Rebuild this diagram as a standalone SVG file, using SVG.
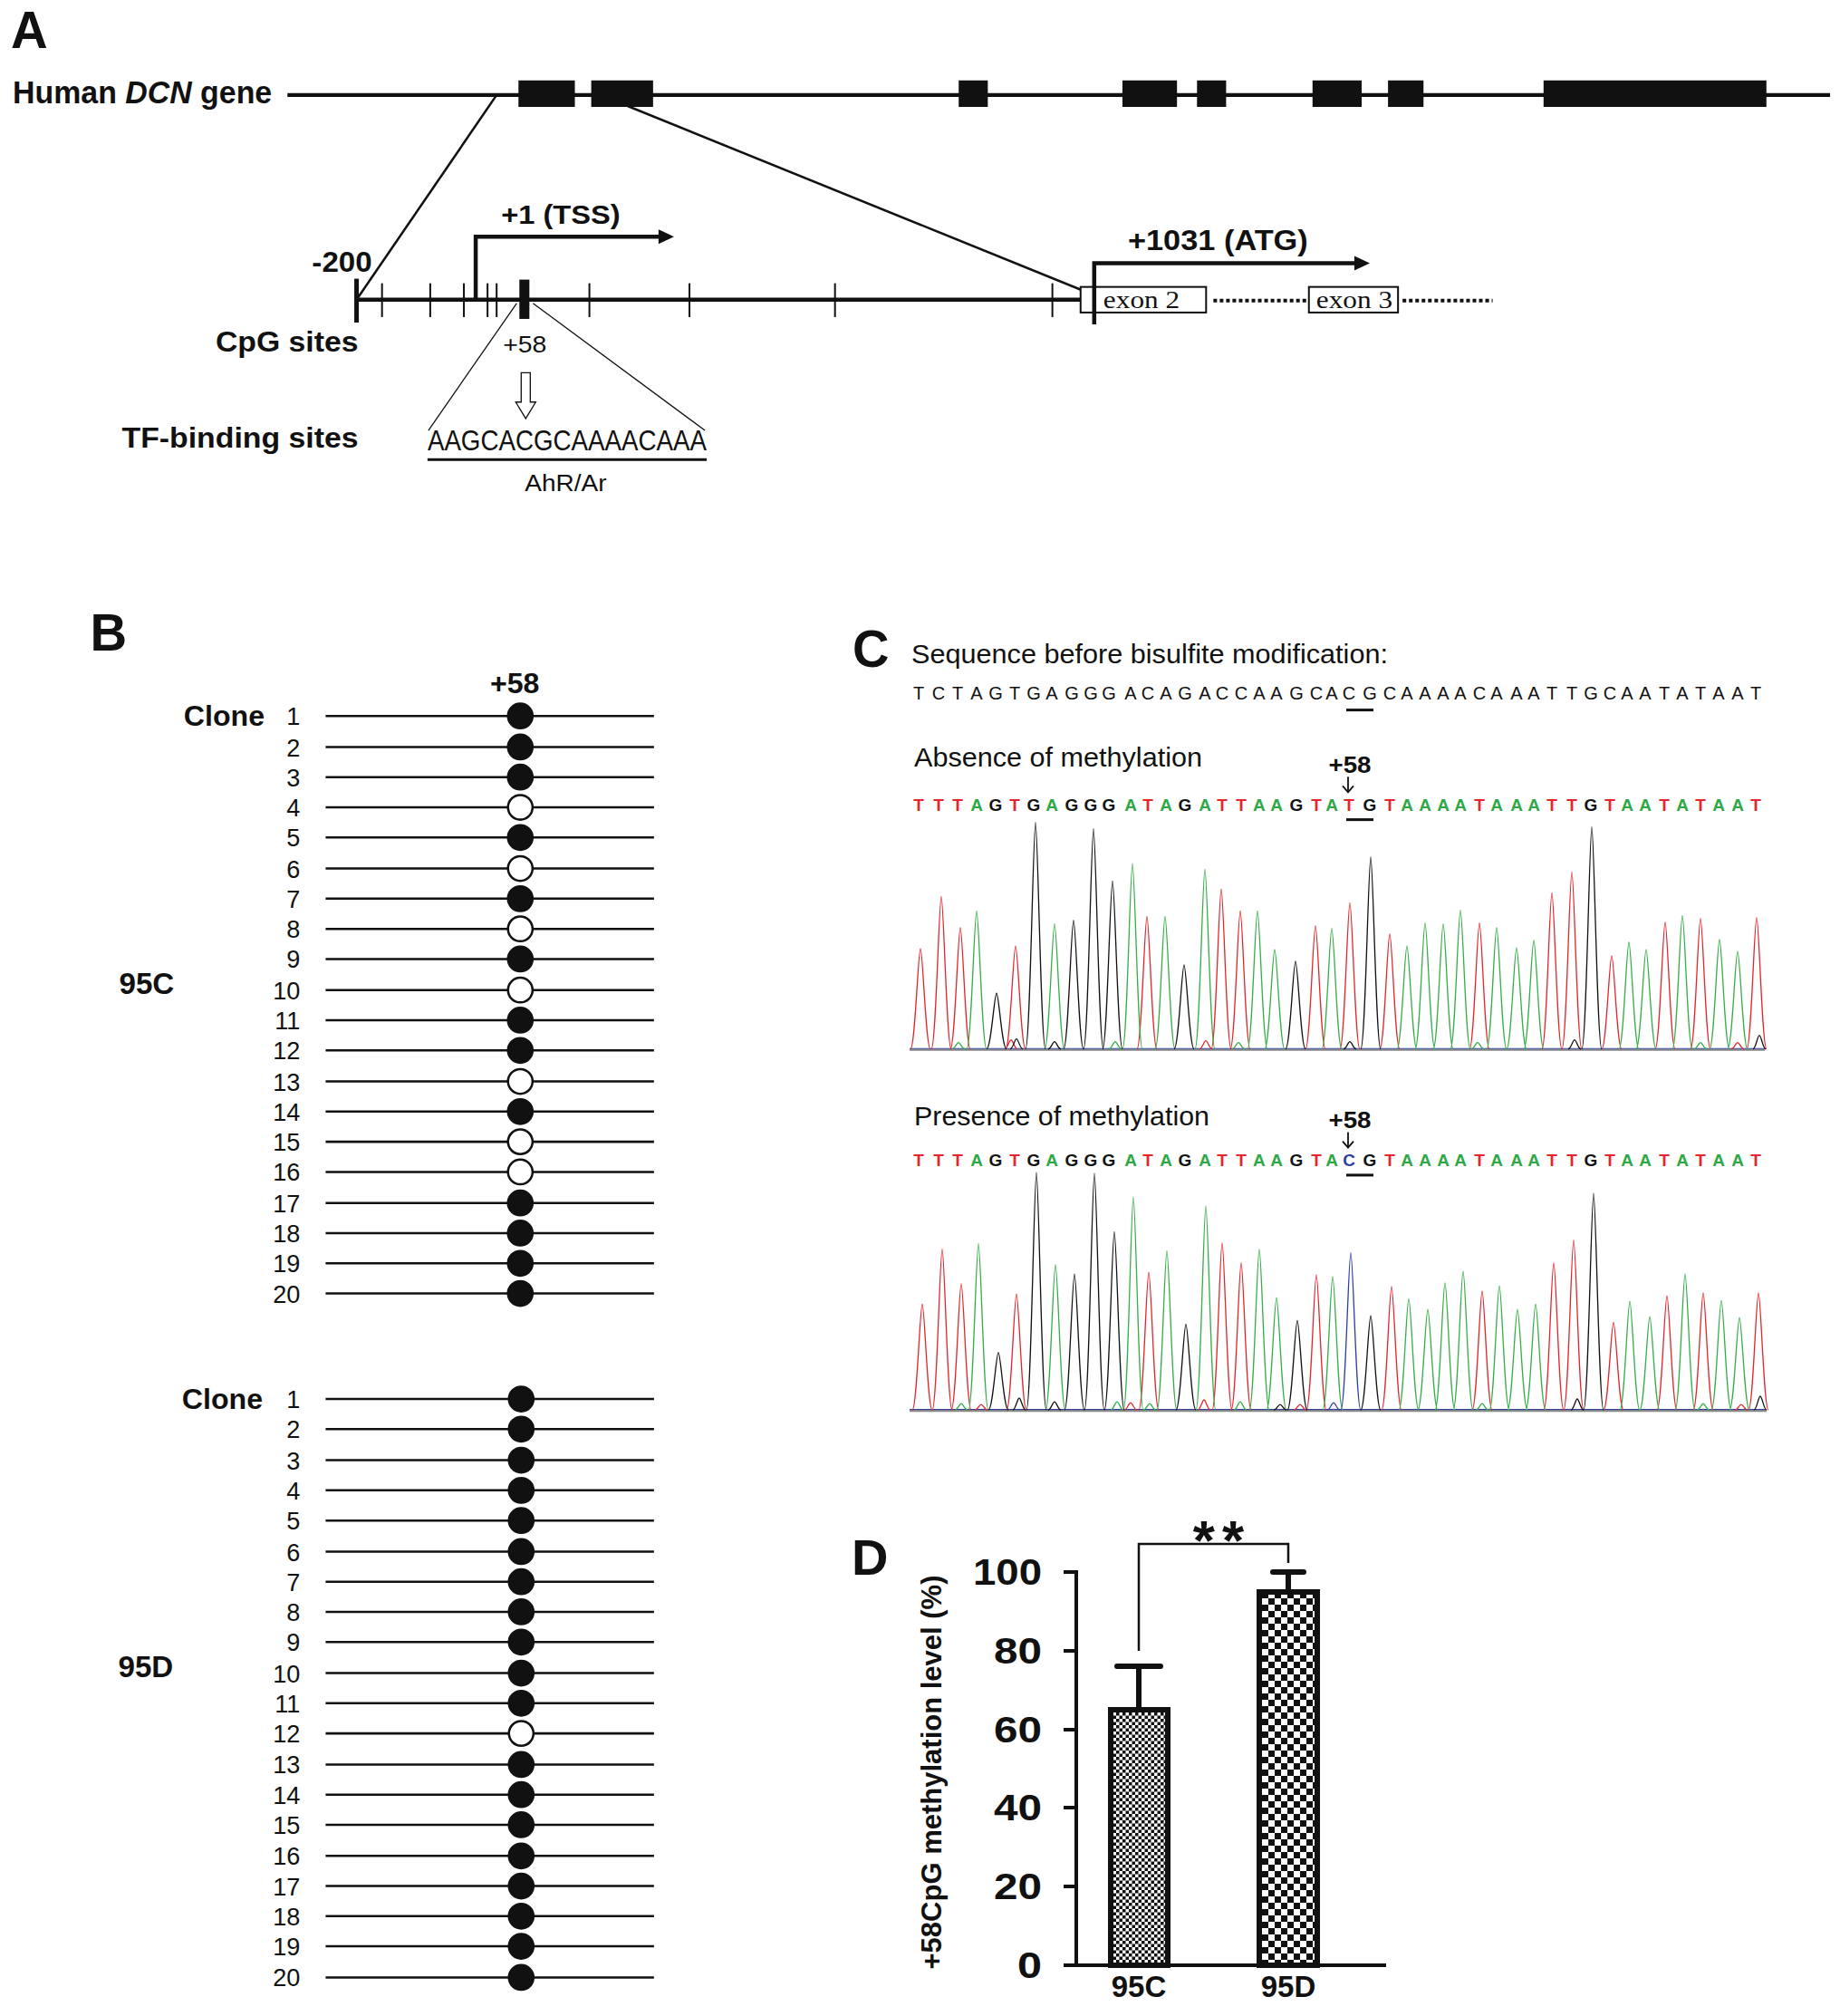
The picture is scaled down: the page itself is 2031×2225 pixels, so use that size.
<svg xmlns="http://www.w3.org/2000/svg" width="2031" height="2225" viewBox="0 0 2031 2225">
<style>
text{font-family:"Liberation Sans",Arial,sans-serif;fill:#111}
.b{font-weight:bold}
.serif{font-family:"Liberation Serif","Times New Roman",serif}
.panel{font-size:56px;font-weight:bold}
.ln{stroke:#111;fill:none}
.row{stroke:#111;stroke-width:2.5}
.full{fill:#111;stroke:#111;stroke-width:2.5}
.open{fill:#fff;stroke:#111;stroke-width:2.5}
.num{font-size:27px;text-anchor:end}
.t{fill:#e3262d}
.a{fill:#2ea844}
.g{fill:#111}
.c{fill:#2c3f9f}
.pkT{fill:none;stroke:#e3262d;stroke-width:1.3}
.pkA{fill:none;stroke:#35ae48;stroke-width:1.3}
.pkG{fill:none;stroke:#111;stroke-width:1.3}
.pkC{fill:none;stroke:#2c3f9f;stroke-width:1.3}
.bl{font-size:19px;font-weight:bold;text-anchor:middle}
.tick{font-size:40px;font-weight:bold;text-anchor:end}
</style>
<defs>
<pattern id="fine" width="7" height="7" patternUnits="userSpaceOnUse"><rect width="7" height="7" fill="#fff"/><rect width="3.5" height="3.5" fill="#111"/><rect x="3.5" y="3.5" width="3.5" height="3.5" fill="#111"/></pattern>
<pattern id="coarse" width="14" height="14" patternUnits="userSpaceOnUse"><rect width="14" height="14" fill="#fff"/><rect width="7" height="7" fill="#111"/><rect x="7" y="7" width="7" height="7" fill="#111"/></pattern>
</defs>
<rect width="2031" height="2225" fill="#fff"/>

<!-- PANEL A -->
<g id="panel-a" transform="matrix(1.004 0 0 1.0085 0 0)">
<text class="panel" x="12" y="53">A</text>
<g id="gene">
<text class="b" x="14" y="113" font-size="34" textLength="285" lengthAdjust="spacingAndGlyphs">Human <tspan font-style="italic">DCN</tspan> gene</text>
<line class="ln" x1="316" y1="104" x2="2012" y2="104" stroke-width="4"/>
<g fill="#111">
<rect x="570" y="88" width="62" height="29"/>
<rect x="650" y="88" width="68" height="29"/>
<rect x="1054" y="88" width="32" height="29"/>
<rect x="1234" y="88" width="60" height="29"/>
<rect x="1316" y="88" width="32" height="29"/>
<rect x="1443" y="88" width="54" height="29"/>
<rect x="1526" y="88" width="39" height="29"/>
<rect x="1697" y="88" width="245" height="29"/>
</g>
</g>
<g id="connectors-a">
<line class="ln" x1="546" y1="104" x2="392" y2="328" stroke-width="2.5"/>
<line class="ln" x1="690" y1="116" x2="1203" y2="323" stroke-width="2.5"/>
<line class="ln" x1="568" y1="332" x2="471" y2="471" stroke-width="1.3"/>
<line class="ln" x1="586" y1="332" x2="775" y2="471" stroke-width="1.3"/>
</g>
<g id="promoter">
<line class="ln" x1="392" y1="328" x2="1195" y2="328" stroke-width="4.5"/>
<line class="ln" x1="392" y1="305" x2="392" y2="353" stroke-width="5"/>
<g class="ln" stroke-width="2">
<line x1="420" y1="310" x2="420" y2="347"/>
<line x1="473" y1="310" x2="473" y2="347"/>
<line x1="510" y1="310" x2="510" y2="347"/>
<line x1="536" y1="310" x2="536" y2="347"/>
<line x1="546" y1="310" x2="546" y2="347"/>
<line x1="648" y1="310" x2="648" y2="347"/>
<line x1="758" y1="310" x2="758" y2="347"/>
<line x1="918" y1="310" x2="918" y2="347"/>
<line x1="1157" y1="310" x2="1157" y2="347"/>
</g>
<rect x="571" y="306" width="11" height="43" fill="#111"/>
<path class="ln" d="M523,328 V259 H726" stroke-width="4.5"/>
<polygon points="724,251 741,259 724,267" fill="#111"/>
<text class="b" x="551" y="245" font-size="30" textLength="131" lengthAdjust="spacingAndGlyphs">+1 (TSS)</text>
<text class="b" x="343" y="297" font-size="31" textLength="66" lengthAdjust="spacingAndGlyphs">-200</text>
<text class="b" x="237" y="385" font-size="31" textLength="157" lengthAdjust="spacingAndGlyphs">CpG sites</text>
<text x="577" y="386" font-size="26" text-anchor="middle" textLength="48" lengthAdjust="spacingAndGlyphs">+58</text>
<polygon points="573,408 583,408 583,440 589,440 578,458 567,440 573,440" fill="#fff" stroke="#111" stroke-width="1.3"/>
<text class="b" x="134" y="490" font-size="31" textLength="260" lengthAdjust="spacingAndGlyphs">TF-binding sites</text>
<text x="470" y="493" font-size="31" textLength="307" lengthAdjust="spacingAndGlyphs">AAGCACGCAAAACAAA</text>
<line class="ln" x1="470" y1="503" x2="777" y2="503" stroke-width="3"/>
<text x="622" y="537" font-size="26" text-anchor="middle" textLength="90" lengthAdjust="spacingAndGlyphs">AhR/Ar</text>
</g>
<g id="exons-detail">
<rect x="1188" y="314" width="138" height="28" fill="#fff" stroke="#111" stroke-width="2"/>
<path class="ln" d="M1203,355 V288 H1491" stroke-width="4.5"/>
<polygon points="1489,280 1506,288 1489,296" fill="#111"/>
<text class="b" x="1240" y="274" font-size="31" textLength="198" lengthAdjust="spacingAndGlyphs">+1031 (ATG)</text>
<text class="serif" x="1213" y="337" font-size="27" textLength="84" lengthAdjust="spacingAndGlyphs">exon 2</text>
<line class="ln" x1="1334" y1="329" x2="1436" y2="329" stroke-width="4" stroke-dasharray="4 3"/>
<rect x="1439" y="314" width="98" height="28" fill="#fff" stroke="#111" stroke-width="2"/>
<text class="serif" x="1447" y="337" font-size="27" textLength="84" lengthAdjust="spacingAndGlyphs">exon 3</text>
<line class="ln" x1="1542" y1="329" x2="1641" y2="329" stroke-width="4" stroke-dasharray="4 3"/>
</g>
</g>

<!-- PANEL B -->
<g id="panel-b" transform="matrix(1.004 0 0 1.0085 0 0)">
<text class="panel" x="99" y="712">B</text>
<text class="b" x="566" y="759" font-size="32" text-anchor="middle">+58</text>
<g id="b-95c" transform="translate(0,-1.5)">
<text class="b" x="202" y="796" font-size="32">Clone</text>
<text class="b" x="131" y="1089" font-size="33">95C</text>
<g>
<line class="row" x1="358" y1="785" x2="719" y2="785"/><line class="row" x1="358" y1="819" x2="719" y2="819"/><line class="row" x1="358" y1="852" x2="719" y2="852"/><line class="row" x1="358" y1="885" x2="719" y2="885"/><line class="row" x1="358" y1="918" x2="719" y2="918"/><line class="row" x1="358" y1="952" x2="719" y2="952"/><line class="row" x1="358" y1="985" x2="719" y2="985"/><line class="row" x1="358" y1="1018" x2="719" y2="1018"/><line class="row" x1="358" y1="1051" x2="719" y2="1051"/><line class="row" x1="358" y1="1085" x2="719" y2="1085"/><line class="row" x1="358" y1="1118" x2="719" y2="1118"/><line class="row" x1="358" y1="1151" x2="719" y2="1151"/><line class="row" x1="358" y1="1185" x2="719" y2="1185"/><line class="row" x1="358" y1="1218" x2="719" y2="1218"/><line class="row" x1="358" y1="1251" x2="719" y2="1251"/><line class="row" x1="358" y1="1284" x2="719" y2="1284"/><line class="row" x1="358" y1="1318" x2="719" y2="1318"/><line class="row" x1="358" y1="1351" x2="719" y2="1351"/><line class="row" x1="358" y1="1384" x2="719" y2="1384"/><line class="row" x1="358" y1="1417" x2="719" y2="1417"/>
</g>
<g>
<circle class="full" cx="572" cy="785" r="13.5"/><circle class="full" cx="572" cy="819" r="13.5"/><circle class="full" cx="572" cy="852" r="13.5"/><circle class="open" cx="572" cy="885" r="13.5"/><circle class="full" cx="572" cy="918" r="13.5"/><circle class="open" cx="572" cy="952" r="13.5"/><circle class="full" cx="572" cy="985" r="13.5"/><circle class="open" cx="572" cy="1018" r="13.5"/><circle class="full" cx="572" cy="1051" r="13.5"/><circle class="open" cx="572" cy="1085" r="13.5"/><circle class="full" cx="572" cy="1118" r="13.5"/><circle class="full" cx="572" cy="1151" r="13.5"/><circle class="open" cx="572" cy="1185" r="13.5"/><circle class="full" cx="572" cy="1218" r="13.5"/><circle class="open" cx="572" cy="1251" r="13.5"/><circle class="open" cx="572" cy="1284" r="13.5"/><circle class="full" cx="572" cy="1318" r="13.5"/><circle class="full" cx="572" cy="1351" r="13.5"/><circle class="full" cx="572" cy="1384" r="13.5"/><circle class="full" cx="572" cy="1417" r="13.5"/>
</g>
<g>
<text class="num" x="330" y="795">1</text><text class="num" x="330" y="829">2</text><text class="num" x="330" y="862">3</text><text class="num" x="330" y="895">4</text><text class="num" x="330" y="928">5</text><text class="num" x="330" y="962">6</text><text class="num" x="330" y="995">7</text><text class="num" x="330" y="1028">8</text><text class="num" x="330" y="1061">9</text><text class="num" x="330" y="1095">10</text><text class="num" x="330" y="1128">11</text><text class="num" x="330" y="1161">12</text><text class="num" x="330" y="1195">13</text><text class="num" x="330" y="1228">14</text><text class="num" x="330" y="1261">15</text><text class="num" x="330" y="1294">16</text><text class="num" x="330" y="1328">17</text><text class="num" x="330" y="1361">18</text><text class="num" x="330" y="1394">19</text><text class="num" x="330" y="1427">20</text>
</g>
</g>
<g id="b-95d" transform="translate(0,-3)">
<text class="b" x="200" y="1545" font-size="32">Clone</text>
<text class="b" x="130" y="1838" font-size="33">95D</text>
<g>
<line class="row" x1="358" y1="1534" x2="719" y2="1534"/><line class="row" x1="358" y1="1567" x2="719" y2="1567"/><line class="row" x1="358" y1="1601" x2="719" y2="1601"/><line class="row" x1="358" y1="1634" x2="719" y2="1634"/><line class="row" x1="358" y1="1667" x2="719" y2="1667"/><line class="row" x1="358" y1="1701" x2="719" y2="1701"/><line class="row" x1="358" y1="1734" x2="719" y2="1734"/><line class="row" x1="358" y1="1767" x2="719" y2="1767"/><line class="row" x1="358" y1="1800" x2="719" y2="1800"/><line class="row" x1="358" y1="1834" x2="719" y2="1834"/><line class="row" x1="358" y1="1867" x2="719" y2="1867"/><line class="row" x1="358" y1="1900" x2="719" y2="1900"/><line class="row" x1="358" y1="1934" x2="719" y2="1934"/><line class="row" x1="358" y1="1967" x2="719" y2="1967"/><line class="row" x1="358" y1="2000" x2="719" y2="2000"/><line class="row" x1="358" y1="2034" x2="719" y2="2034"/><line class="row" x1="358" y1="2067" x2="719" y2="2067"/><line class="row" x1="358" y1="2100" x2="719" y2="2100"/><line class="row" x1="358" y1="2133" x2="719" y2="2133"/><line class="row" x1="358" y1="2167" x2="719" y2="2167"/>
</g>
<g>
<circle class="full" cx="573" cy="1534" r="13.5"/><circle class="full" cx="573" cy="1567" r="13.5"/><circle class="full" cx="573" cy="1601" r="13.5"/><circle class="full" cx="573" cy="1634" r="13.5"/><circle class="full" cx="573" cy="1667" r="13.5"/><circle class="full" cx="573" cy="1701" r="13.5"/><circle class="full" cx="573" cy="1734" r="13.5"/><circle class="full" cx="573" cy="1767" r="13.5"/><circle class="full" cx="573" cy="1800" r="13.5"/><circle class="full" cx="573" cy="1834" r="13.5"/><circle class="full" cx="573" cy="1867" r="13.5"/><circle class="open" cx="573" cy="1900" r="13.5"/><circle class="full" cx="573" cy="1934" r="13.5"/><circle class="full" cx="573" cy="1967" r="13.5"/><circle class="full" cx="573" cy="2000" r="13.5"/><circle class="full" cx="573" cy="2034" r="13.5"/><circle class="full" cx="573" cy="2067" r="13.5"/><circle class="full" cx="573" cy="2100" r="13.5"/><circle class="full" cx="573" cy="2133" r="13.5"/><circle class="full" cx="573" cy="2167" r="13.5"/>
</g>
<g>
<text class="num" x="330" y="1544">1</text><text class="num" x="330" y="1577">2</text><text class="num" x="330" y="1611">3</text><text class="num" x="330" y="1644">4</text><text class="num" x="330" y="1677">5</text><text class="num" x="330" y="1711">6</text><text class="num" x="330" y="1744">7</text><text class="num" x="330" y="1777">8</text><text class="num" x="330" y="1810">9</text><text class="num" x="330" y="1844">10</text><text class="num" x="330" y="1877">11</text><text class="num" x="330" y="1910">12</text><text class="num" x="330" y="1944">13</text><text class="num" x="330" y="1977">14</text><text class="num" x="330" y="2010">15</text><text class="num" x="330" y="2044">16</text><text class="num" x="330" y="2077">17</text><text class="num" x="330" y="2110">18</text><text class="num" x="330" y="2143">19</text><text class="num" x="330" y="2177">20</text>
</g>
</g>
</g>

<!-- PANEL C -->
<g id="panel-c" transform="matrix(1 0 0 1.0085 0 0)">
<text class="panel" x="941" y="730">C</text>
<text x="1006" y="726" font-size="29" textLength="526" lengthAdjust="spacingAndGlyphs">Sequence before bisulfite modification:</text>
<text font-size="20" text-anchor="middle" y="766" x="1014 1036 1057 1078 1099 1120 1141 1161 1183 1204 1224 1248 1267 1287 1308 1330 1349 1370 1390 1409 1431 1453 1470 1489 1512 1534 1553 1573 1593 1612 1633 1652 1674 1693 1713 1735 1756 1777 1796 1816 1837 1857 1877 1897 1918 1938">TCTAGTGAGGGACAGACCAAGCACGCAAAACAAATTGCAATATAAT</text>
<line class="ln" x1="1486" y1="777" x2="1516" y2="777" stroke-width="3"/>

<g id="absence">
<text x="1009" y="839" font-size="29" textLength="318" lengthAdjust="spacingAndGlyphs">Absence of methylation</text>
<text class="b" x="1490" y="846" font-size="25" text-anchor="middle" textLength="47" lengthAdjust="spacingAndGlyphs">+58</text>
<path class="ln" d="M1488,850 V867 M1482,860 L1488,867 L1494,860" stroke-width="1.8"/>
<text class="bl" y="887"><tspan class="t" x="1014">T</tspan><tspan class="t" x="1036">T</tspan><tspan class="t" x="1057">T</tspan><tspan class="a" x="1078">A</tspan><tspan class="g" x="1099">G</tspan><tspan class="t" x="1120">T</tspan><tspan class="g" x="1141">G</tspan><tspan class="a" x="1161">A</tspan><tspan class="g" x="1183">G</tspan><tspan class="g" x="1204">G</tspan><tspan class="g" x="1224">G</tspan><tspan class="a" x="1248">A</tspan><tspan class="t" x="1267">T</tspan><tspan class="a" x="1287">A</tspan><tspan class="g" x="1308">G</tspan><tspan class="a" x="1330">A</tspan><tspan class="t" x="1349">T</tspan><tspan class="t" x="1370">T</tspan><tspan class="a" x="1390">A</tspan><tspan class="a" x="1409">A</tspan><tspan class="g" x="1431">G</tspan><tspan class="t" x="1453">T</tspan><tspan class="a" x="1470">A</tspan><tspan class="t" x="1489">T</tspan><tspan class="g" x="1512">G</tspan><tspan class="t" x="1534">T</tspan><tspan class="a" x="1553">A</tspan><tspan class="a" x="1573">A</tspan><tspan class="a" x="1593">A</tspan><tspan class="a" x="1612">A</tspan><tspan class="t" x="1633">T</tspan><tspan class="a" x="1652">A</tspan><tspan class="a" x="1674">A</tspan><tspan class="a" x="1693">A</tspan><tspan class="t" x="1713">T</tspan><tspan class="t" x="1735">T</tspan><tspan class="g" x="1756">G</tspan><tspan class="t" x="1777">T</tspan><tspan class="a" x="1796">A</tspan><tspan class="a" x="1816">A</tspan><tspan class="t" x="1837">T</tspan><tspan class="a" x="1857">A</tspan><tspan class="t" x="1877">T</tspan><tspan class="a" x="1897">A</tspan><tspan class="a" x="1918">A</tspan><tspan class="t" x="1938">T</tspan></text>
<line class="ln" x1="1486" y1="897" x2="1516" y2="897" stroke-width="3"/>
<g id="chrom-absence">
<line x1="1004" y1="1149" x2="1948" y2="1149" stroke="#888" stroke-width="2"/>
<line x1="1004" y1="1147.5" x2="1948" y2="1147.5" stroke="#2c3f9f" stroke-width="1"/>
<path class="pkT" d="M1005,1148c5,0 8.5,-110 11,-110c2.5,0 6,110 11,110M1028,1148c5,0 8.5,-167 11,-167c2.5,0 6,167 11,167M1049,1148c5,0 8.5,-133 11,-133c2.5,0 6,133 11,133M1110,1148c5,0 8.5,-113 11,-113c2.5,0 6,113 11,113M1255,1148c5,0 8.5,-145 11,-145c2.5,0 6,145 11,145M1337,1148c5,0 8.5,-175 11,-175c2.5,0 6,175 11,175M1358,1148c5,0 8.5,-151 11,-151c2.5,0 6,151 11,151M1441,1148c5,0 8.5,-135 11,-135c2.5,0 6,135 11,135M1479,1148c5,0 8.5,-160 11,-160c2.5,0 6,160 11,160M1523,1148c5,0 8.5,-126 11,-126c2.5,0 6,126 11,126M1622,1148c5,0 8.5,-138 11,-138c2.5,0 6,138 11,138M1702,1148c5,0 8.5,-171 11,-171c2.5,0 6,171 11,171M1724,1148c5,0 8.5,-194 11,-194c2.5,0 6,194 11,194M1768,1148c5,0 8.5,-102 11,-102c2.5,0 6,102 11,102M1827,1148c5,0 8.5,-139 11,-139c2.5,0 6,139 11,139M1866,1148c5,0 8.5,-143 11,-143c2.5,0 6,143 11,143M1928,1148c5,0 8.5,-144 11,-144c2.5,0 6,144 11,144M1109,1148c3,0 5,-10 7,-10c2,0 4,10 7,10M1324,1148c3,0 5,-9 7,-9c2,0 4,9 7,9M1911,1148c3,0 5,-7 7,-7c2,0 4,7 7,7"/>
<path class="pkA" d="M1067,1148c5,0 8.5,-151 11,-151c2.5,0 6,151 11,151M1153,1148c5,0 8.5,-137 11,-137c2.5,0 6,137 11,137M1239,1148c5,0 8.5,-203 11,-203c2.5,0 6,203 11,203M1275,1148c5,0 8.5,-145 11,-145c2.5,0 6,145 11,145M1319,1148c5,0 8.5,-197 11,-197c2.5,0 6,197 11,197M1377,1148c5,0 8.5,-151 11,-151c2.5,0 6,151 11,151M1396,1148c5,0 8.5,-109 11,-109c2.5,0 6,109 11,109M1459,1148c5,0 8.5,-132 11,-132c2.5,0 6,132 11,132M1542,1148c5,0 8.5,-113 11,-113c2.5,0 6,113 11,113M1562,1148c5,0 8.5,-138 11,-138c2.5,0 6,138 11,138M1582,1148c5,0 8.5,-137 11,-137c2.5,0 6,137 11,137M1601,1148c5,0 8.5,-152 11,-152c2.5,0 6,152 11,152M1641,1148c5,0 8.5,-133 11,-133c2.5,0 6,133 11,133M1663,1148c5,0 8.5,-111 11,-111c2.5,0 6,111 11,111M1682,1148c5,0 8.5,-119 11,-119c2.5,0 6,119 11,119M1787,1148c5,0 8.5,-117 11,-117c2.5,0 6,117 11,117M1806,1148c5,0 8.5,-109 11,-109c2.5,0 6,109 11,109M1846,1148c5,0 8.5,-146 11,-146c2.5,0 6,146 11,146M1887,1148c5,0 8.5,-120 11,-120c2.5,0 6,120 11,120M1907,1148c5,0 8.5,-107 11,-107c2.5,0 6,107 11,107M1051,1148c3,0 5,-7 7,-7c2,0 4,7 7,7M1224,1148c3,0 5,-8 7,-8c2,0 4,8 7,8M1360,1148c3,0 5,-7 7,-7c2,0 4,7 7,7M1624,1148c3,0 5,-7 7,-7c2,0 4,7 7,7M1870,1148c3,0 5,-7 7,-7c2,0 4,7 7,7"/>
<path class="pkG" d="M1089,1148c5,0 8.5,-61 11,-61c2.5,0 6,61 11,61M1132,1148c5,0 8.5,-248 11,-248c2.5,0 6,248 11,248M1174,1148c5,0 8.5,-141 11,-141c2.5,0 6,141 11,141M1196,1148c5,0 8.5,-241 11,-241c2.5,0 6,241 11,241M1217,1148c5,0 8.5,-184 11,-184c2.5,0 6,184 11,184M1296,1148c5,0 8.5,-92 11,-92c2.5,0 6,92 11,92M1419,1148c5,0 8.5,-96 11,-96c2.5,0 6,96 11,96M1502,1148c5,0 8.5,-210 11,-210c2.5,0 6,210 11,210M1746,1148c5,0 8.5,-243 11,-243c2.5,0 6,243 11,243M1115,1148c3,0 5,-11 7,-11c2,0 4,11 7,11M1157,1148c3,0 5,-8 7,-8c2,0 4,8 7,8M1483,1148c3,0 5,-8 7,-8c2,0 4,8 7,8M1731,1148c3,0 5,-10 7,-10c2,0 4,10 7,10M1935,1148c3,0 5,-15 7,-15c2,0 4,15 7,15"/>
</g>
</g>

<g id="presence">
<text x="1009" y="1232" font-size="29" textLength="326" lengthAdjust="spacingAndGlyphs">Presence of methylation</text>
<text class="b" x="1490" y="1235" font-size="25" text-anchor="middle" textLength="47" lengthAdjust="spacingAndGlyphs">+58</text>
<path class="ln" d="M1488,1239 V1256 M1482,1249 L1488,1256 L1494,1249" stroke-width="1.8"/>
<text class="bl" y="1276"><tspan class="t" x="1014">T</tspan><tspan class="t" x="1036">T</tspan><tspan class="t" x="1057">T</tspan><tspan class="a" x="1078">A</tspan><tspan class="g" x="1099">G</tspan><tspan class="t" x="1120">T</tspan><tspan class="g" x="1141">G</tspan><tspan class="a" x="1161">A</tspan><tspan class="g" x="1183">G</tspan><tspan class="g" x="1204">G</tspan><tspan class="g" x="1224">G</tspan><tspan class="a" x="1248">A</tspan><tspan class="t" x="1267">T</tspan><tspan class="a" x="1287">A</tspan><tspan class="g" x="1308">G</tspan><tspan class="a" x="1330">A</tspan><tspan class="t" x="1349">T</tspan><tspan class="t" x="1370">T</tspan><tspan class="a" x="1390">A</tspan><tspan class="a" x="1409">A</tspan><tspan class="g" x="1431">G</tspan><tspan class="t" x="1453">T</tspan><tspan class="a" x="1470">A</tspan><tspan class="c" x="1489">C</tspan><tspan class="g" x="1512">G</tspan><tspan class="t" x="1534">T</tspan><tspan class="a" x="1553">A</tspan><tspan class="a" x="1573">A</tspan><tspan class="a" x="1593">A</tspan><tspan class="a" x="1612">A</tspan><tspan class="t" x="1633">T</tspan><tspan class="a" x="1652">A</tspan><tspan class="a" x="1674">A</tspan><tspan class="a" x="1693">A</tspan><tspan class="t" x="1713">T</tspan><tspan class="t" x="1735">T</tspan><tspan class="g" x="1756">G</tspan><tspan class="t" x="1777">T</tspan><tspan class="a" x="1796">A</tspan><tspan class="a" x="1816">A</tspan><tspan class="t" x="1837">T</tspan><tspan class="a" x="1857">A</tspan><tspan class="t" x="1877">T</tspan><tspan class="a" x="1897">A</tspan><tspan class="a" x="1918">A</tspan><tspan class="t" x="1938">T</tspan></text>
<line class="ln" x1="1486" y1="1286" x2="1516" y2="1286" stroke-width="3"/>
<g id="chrom-presence">
<line x1="1004" y1="1544" x2="1950" y2="1544" stroke="#888" stroke-width="2"/>
<line x1="1004" y1="1542.5" x2="1950" y2="1542.5" stroke="#2c3f9f" stroke-width="1"/>
<path class="pkT" d="M1007,1543c5,0 8.5,-116 11,-116c2.5,0 6,116 11,116M1029,1543c5,0 8.5,-176 11,-176c2.5,0 6,176 11,176M1050,1543c5,0 8.5,-138 11,-138c2.5,0 6,138 11,138M1111,1543c5,0 8.5,-127 11,-127c2.5,0 6,127 11,127M1257,1543c5,0 8.5,-151 11,-151c2.5,0 6,151 11,151M1338,1543c5,0 8.5,-183 11,-183c2.5,0 6,183 11,183M1359,1543c5,0 8.5,-161 11,-161c2.5,0 6,161 11,161M1442,1543c5,0 8.5,-148 11,-148c2.5,0 6,148 11,148M1525,1543c5,0 8.5,-135 11,-135c2.5,0 6,135 11,135M1625,1543c5,0 8.5,-130 11,-130c2.5,0 6,130 11,130M1704,1543c5,0 8.5,-161 11,-161c2.5,0 6,161 11,161M1726,1543c5,0 8.5,-186 11,-186c2.5,0 6,186 11,186M1770,1543c5,0 8.5,-96 11,-96c2.5,0 6,96 11,96M1829,1543c5,0 8.5,-125 11,-125c2.5,0 6,125 11,125M1869,1543c5,0 8.5,-128 11,-128c2.5,0 6,128 11,128M1930,1543c5,0 8.5,-128 11,-128c2.5,0 6,128 11,128M1076,1543c3,0 5,-6 7,-6c2,0 4,6 7,6M1241,1543c3,0 5,-8 7,-8c2,0 4,8 7,8M1322,1543c3,0 5,-11 7,-11c2,0 4,11 7,11M1428,1543c3,0 5,-6 7,-6c2,0 4,6 7,6M1915,1543c3,0 5,-6 7,-6c2,0 4,6 7,6"/>
<path class="pkA" d="M1069,1543c5,0 8.5,-182 11,-182c2.5,0 6,182 11,182M1154,1543c5,0 8.5,-159 11,-159c2.5,0 6,159 11,159M1240,1543c5,0 8.5,-233 11,-233c2.5,0 6,233 11,233M1277,1543c5,0 8.5,-174 11,-174c2.5,0 6,174 11,174M1320,1543c5,0 8.5,-223 11,-223c2.5,0 6,223 11,223M1379,1543c5,0 8.5,-176 11,-176c2.5,0 6,176 11,176M1398,1543c5,0 8.5,-123 11,-123c2.5,0 6,123 11,123M1460,1543c5,0 8.5,-146 11,-146c2.5,0 6,146 11,146M1544,1543c5,0 8.5,-122 11,-122c2.5,0 6,122 11,122M1565,1543c5,0 8.5,-110 11,-110c2.5,0 6,110 11,110M1584,1543c5,0 8.5,-139 11,-139c2.5,0 6,139 11,139M1604,1543c5,0 8.5,-152 11,-152c2.5,0 6,152 11,152M1644,1543c5,0 8.5,-136 11,-136c2.5,0 6,136 11,136M1664,1543c5,0 8.5,-110 11,-110c2.5,0 6,110 11,110M1684,1543c5,0 8.5,-116 11,-116c2.5,0 6,116 11,116M1788,1543c5,0 8.5,-119 11,-119c2.5,0 6,119 11,119M1810,1543c5,0 8.5,-102 11,-102c2.5,0 6,102 11,102M1849,1543c5,0 8.5,-149 11,-149c2.5,0 6,149 11,149M1889,1543c5,0 8.5,-120 11,-120c2.5,0 6,120 11,120M1909,1543c5,0 8.5,-101 11,-101c2.5,0 6,101 11,101M1054,1543c3,0 5,-7 7,-7c2,0 4,7 7,7M1226,1543c3,0 5,-9 7,-9c2,0 4,9 7,9M1262,1543c3,0 5,-7 7,-7c2,0 4,7 7,7M1362,1543c3,0 5,-9 7,-9c2,0 4,9 7,9M1629,1543c3,0 5,-7 7,-7c2,0 4,7 7,7M1873,1543c3,0 5,-7 7,-7c2,0 4,7 7,7"/>
<path class="pkG" d="M1091,1543c5,0 8.5,-63 11,-63c2.5,0 6,63 11,63M1133,1543c5,0 8.5,-260 11,-260c2.5,0 6,260 11,260M1175,1543c5,0 8.5,-149 11,-149c2.5,0 6,149 11,149M1197,1543c5,0 8.5,-259 11,-259c2.5,0 6,259 11,259M1219,1543c5,0 8.5,-195 11,-195c2.5,0 6,195 11,195M1298,1543c5,0 8.5,-94 11,-94c2.5,0 6,94 11,94M1421,1543c5,0 8.5,-98 11,-98c2.5,0 6,98 11,98M1502,1543c5,0 8.5,-103 11,-103c2.5,0 6,103 11,103M1748,1543c5,0 8.5,-237 11,-237c2.5,0 6,237 11,237M1118,1543c3,0 5,-13 7,-13c2,0 4,13 7,13M1157,1543c3,0 5,-9 7,-9c2,0 4,9 7,9M1406,1543c3,0 5,-6 7,-6c2,0 4,6 7,6M1734,1543c3,0 5,-12 7,-12c2,0 4,12 7,12M1936,1543c3,0 5,-15 7,-15c2,0 4,15 7,15"/>
<path class="pkC" d="M1480,1543c5,0 8.5,-172 11,-172c2.5,0 6,172 11,172M1465,1543c3,0 5,-8 7,-8c2,0 4,8 7,8"/>
</g>
</g>
</g>

<!-- PANEL D -->
<g id="panel-d">
<text class="panel" x="940" y="1738">D</text>
<text class="b" font-size="31" text-anchor="middle" transform="translate(1039,1956) rotate(-90)">+58CpG methylation level (%)</text>
<g id="axes">
<line class="ln" x1="1188" y1="1733" x2="1188" y2="2171" stroke-width="4"/>
<line class="ln" x1="1174" y1="2169" x2="1530" y2="2169" stroke-width="4"/>
<g class="ln" stroke-width="4">
<line x1="1174" y1="2082" x2="1188" y2="2082"/>
<line x1="1174" y1="1995" x2="1188" y2="1995"/>
<line x1="1174" y1="1909" x2="1188" y2="1909"/>
<line x1="1174" y1="1822" x2="1188" y2="1822"/>
<line x1="1174" y1="1735" x2="1188" y2="1735"/>
</g>
<text class="tick" x="1150" y="2183" textLength="27" lengthAdjust="spacingAndGlyphs">0</text>
<text class="tick" x="1150" y="2096" textLength="53" lengthAdjust="spacingAndGlyphs">20</text>
<text class="tick" x="1150" y="2009" textLength="53" lengthAdjust="spacingAndGlyphs">40</text>
<text class="tick" x="1150" y="1923" textLength="53" lengthAdjust="spacingAndGlyphs">60</text>
<text class="tick" x="1150" y="1836" textLength="53" lengthAdjust="spacingAndGlyphs">80</text>
<text class="tick" x="1150" y="1749" textLength="76" lengthAdjust="spacingAndGlyphs">100</text>
</g>
<g id="bar-95c">
<rect x="1226" y="1887" width="63" height="282" fill="url(#fine)" stroke="#111" stroke-width="6"/>
<path class="ln" d="M1257,1887 V1839 M1233,1839 H1281" stroke-width="6" stroke-linecap="round"/>
<text class="b" x="1257" y="2204" font-size="33" text-anchor="middle">95C</text>
</g>
<g id="bar-95d">
<rect x="1390" y="1757" width="64" height="412" fill="url(#coarse)" stroke="#111" stroke-width="6"/>
<path class="ln" d="M1422,1757 V1735 M1405,1735 H1439" stroke-width="6" stroke-linecap="round"/>
<text class="b" x="1422" y="2204" font-size="33" text-anchor="middle">95D</text>
</g>
<g id="significance">
<path class="ln" d="M1257,1822 V1704 H1422 V1725" stroke-width="2.5"/>
<text class="b" x="1349" y="1721" font-size="62" text-anchor="middle" letter-spacing="8">**</text>
</g>
</g>
</svg>
